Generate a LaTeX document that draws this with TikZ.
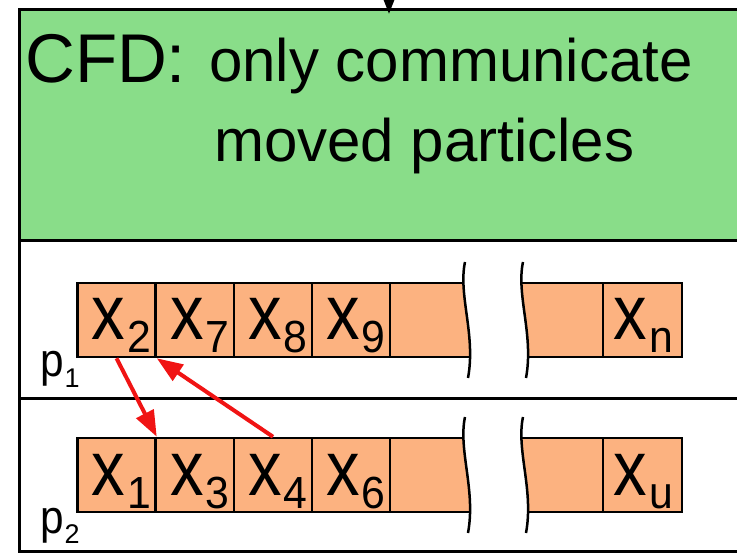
\documentclass[tikz,border=0pt]{standalone}
\usepackage{fontspec}
\usepackage{graphicx}
\setmainfont{Liberation Sans}
\usetikzlibrary{arrows.meta}
\definecolor{cfdgreen}{RGB}{137,221,137}
\definecolor{cellorange}{RGB}{252,178,128}
\definecolor{arrred}{RGB}{240,20,20}
\newcommand\xsub[1]{\scalebox{0.86}[1]{\fontsize{78}{78}\selectfont x}\kern2pt\raisebox{-13pt}{\scalebox{0.95}[1]{\fontsize{45}{45}\selectfont #1}}}
\newcommand\psub[1]{\scalebox{0.9}[1]{\fontsize{47}{47}\selectfont p}\kern1pt\raisebox{-10pt}{\fontsize{27}{27}\selectfont #1}}
\begin{document}
\begin{tikzpicture}[x=1pt,y=-1pt,
  cell/.style={draw=black, fill=cellorange, line width=2.5pt, minimum width=78pt, minimum height=74pt, inner sep=0pt},
  celltext/.style={inner sep=0pt, text height=40pt, text depth=0pt},
  frame/.style={line width=3pt, draw=black},
  thin/.style={line width=2.5pt},
  redarrow/.style={draw=arrred, line width=4pt, -{Triangle[length=26pt,width=19pt]}},
  bigtext/.style={anchor=base west, inner sep=0pt, font=\fontsize{60}{60}\selectfont},
  plabel/.style={anchor=base west, inner sep=0pt}]
\useasboundingbox (0,0) rectangle (737,556);
\clip (0,0) rectangle (737,556);
% frame
\fill[cfdgreen] (19.5,9.5) rectangle (760,241);
\draw[frame] (19.5,9.5) rectangle (760,551.5);
\draw[frame] (19.5,241) -- (760,241);
\draw[frame] (19.5,398) -- (760,398);
% top arrow
\coordinate (asrc) at (389,-10);
\coordinate (atip) at (389,14);
\draw[line width=2.5pt, -{Triangle[length=14pt,width=10pt]}] (asrc) -- (atip);
% title text
\node[anchor=base west, inner sep=0pt, font=\fontsize{69}{69}\selectfont] (cfd) at (25,83) {CFD:};
\node[bigtext] (only) at (209,82) {only communicate};
\node[bigtext] (moved) at (214,162) {moved particles};
% row 1 partial cells
\begin{scope}
\clip (0,262) -- (465,262) .. controls (458,295) and (476,335) .. (468,378) -- (0,378) -- cycle;
\fill[cellorange] (390,283) rectangle (500,357);
\draw[thin] (390,283) -- (500,283) (390,357) -- (500,357);
\end{scope}
\begin{scope}
\clip (523,262) .. controls (516,295) and (534,335) .. (526,378) -- (737,378) -- (737,262) -- cycle;
\fill[cellorange] (500,283) rectangle (603,357);
\draw[thin] (500,283) -- (603,283) (500,357) -- (603,357);
\end{scope}
\draw[thin] (465,262) .. controls (458,295) and (476,335) .. (468,378);
\draw[thin] (523,262) .. controls (516,295) and (534,335) .. (526,378);
% row 2 partial cells
\begin{scope}
\clip (0,417) -- (465,417) .. controls (458,450) and (476,490) .. (468,533) -- (0,533) -- cycle;
\fill[cellorange] (390,438) rectangle (500,512);
\draw[thin] (390,438) -- (500,438) (390,512) -- (500,512);
\end{scope}
\begin{scope}
\clip (523,417) .. controls (516,450) and (534,490) .. (526,533) -- (737,533) -- (737,417) -- cycle;
\fill[cellorange] (500,438) rectangle (603,512);
\draw[thin] (500,438) -- (603,438) (500,512) -- (603,512);
\end{scope}
\draw[thin] (465,417) .. controls (458,450) and (476,490) .. (468,533);
\draw[thin] (523,417) .. controls (516,450) and (534,490) .. (526,533);
% row 1 cells
\node[cell] (c11) at (116.5,320) {};
\node[cell] (c12) at (195,320) {};
\node[cell] (c13) at (273,320) {};
\node[cell] (c14) at (351,320) {};
\node[cell, minimum width=79pt] (c1n) at (642.5,320) {};
\node[celltext] (t11) at ([xshift=5pt]c11.center) {\xsub{2}};
\node[celltext] (t12) at ([xshift=5pt]c12.center) {\xsub{7}};
\node[celltext] (t13) at ([xshift=5pt]c13.center) {\xsub{8}};
\node[celltext] (t14) at ([xshift=5pt]c14.center) {\xsub{9}};
\node[celltext] (t1n) at ([xshift=1pt]c1n.center) {\xsub{n}};
% row 2 cells
\node[cell] (c21) at (116.5,475) {};
\node[cell] (c22) at (195,475) {};
\node[cell] (c23) at (273,475) {};
\node[cell] (c24) at (351,475) {};
\node[cell, minimum width=79pt] (c2u) at (642.5,475) {};
\node[celltext] (t21) at ([xshift=5pt]c21.center) {\xsub{1}};
\node[celltext] (t22) at ([xshift=5pt]c22.center) {\xsub{3}};
\node[celltext] (t23) at ([xshift=5pt]c23.center) {\xsub{4}};
\node[celltext] (t24) at ([xshift=5pt]c24.center) {\xsub{6}};
\node[celltext] (t2u) at ([xshift=1pt]c2u.center) {\xsub{u}};
% process labels
\node[plabel] (p1) at (40,377) {\psub{1}};
\node[plabel] (p2) at (40,533) {\psub{2}};
% red arrows
\draw[redarrow] (c11.south) -- (c21.north east);
\draw[redarrow] (c23.north) -- (c11.south east);
\end{tikzpicture}
\end{document}
